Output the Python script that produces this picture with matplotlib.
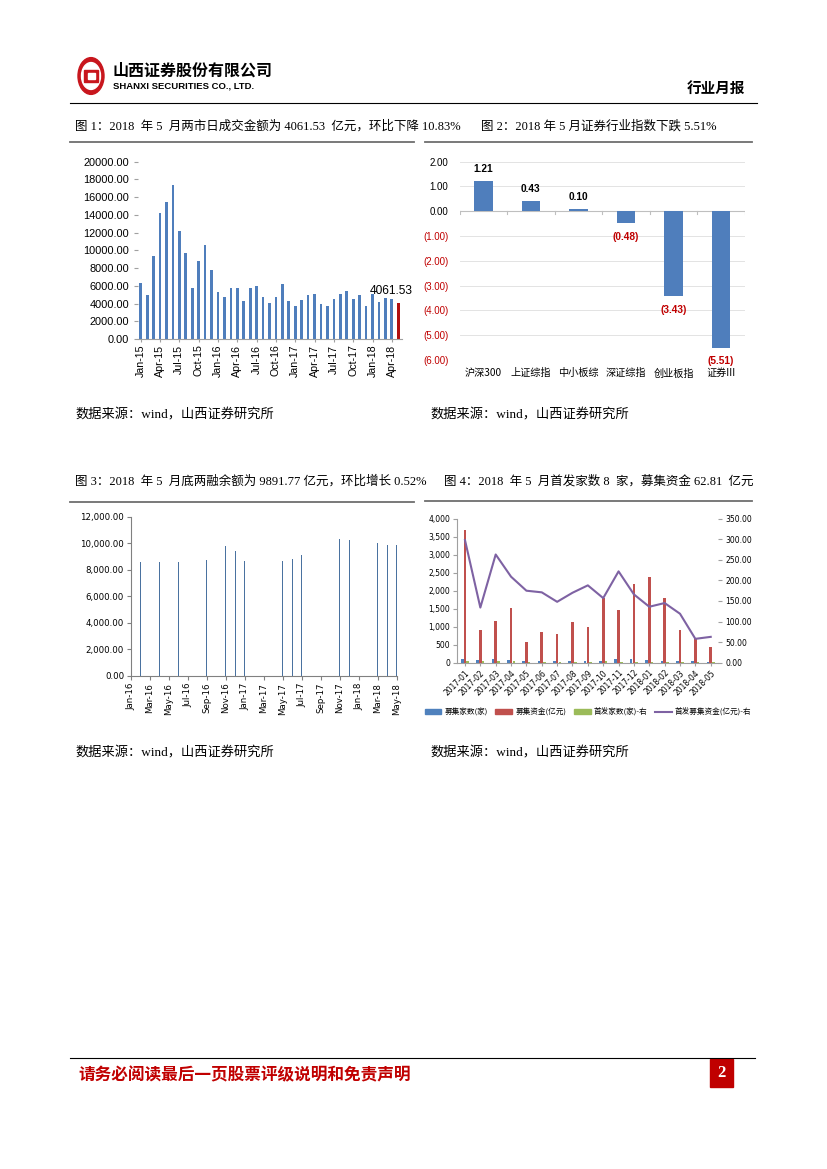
import matplotlib
matplotlib.use("Agg")
import matplotlib.pyplot as plt
from matplotlib.patches import Rectangle, Circle, Patch
from matplotlib.lines import Line2D
import numpy as np

W, H = 827, 1169
fig = plt.figure(figsize=(W / 100, H / 100), dpi=100)

SERIF = ['Liberation Serif', 'Noto Sans CJK SC']
SANS = ['Noto Sans CJK SC', 'DejaVu Sans']

# ---------------- data ----------------
# Chart 1: monthly turnover (亿元), Jan-15 .. May-18
turnover = [6350, 5000, 9400, 14200, 15500, 17370, 12200, 9700, 5800, 8800, 10600, 7800,
            5300, 4700, 5800, 5700, 4300, 5700, 6000, 4700, 4100, 4700, 6200, 4300,
            3760, 4400, 5000, 5100, 4000, 3760, 4550, 5100, 5400, 4550, 5000, 3760,
            5100, 4200, 4660, 4550, 4061.53]
turnover_ticklabels = ["Jan-15", "Apr-15", "Jul-15", "Oct-15", "Jan-16", "Apr-16", "Jul-16",
                       "Oct-16", "Jan-17", "Apr-17", "Jul-17", "Oct-17", "Jan-18", "Apr-18"]
turnover_yticks = [0, 2000, 4000, 6000, 8000, 10000, 12000, 14000, 16000, 18000, 20000]

# Chart 2: index changes (%)
idx_names = ["沪深300", "上证综指", "中小板综", "深证综指", "创业板指", "证券III"]
idx_change = [1.21, 0.43, 0.10, -0.48, -3.43, -5.51]
idx_yticks = [2, 1, 0, -1, -2, -3, -4, -5, -6]

# Chart 3: margin balance (亿元)
margin_months = ["2016-02", "2016-04", "2016-06", "2016-09", "2016-11", "2016-12", "2017-01",
                 "2017-05", "2017-06", "2017-07", "2017-11", "2017-12", "2018-03", "2018-04",
                 "2018-05"]
margin_balance = [8600, 8580, 8600, 8750, 9810, 9430, 8680, 8680, 8830, 9080, 10340, 10260,
                  10040, 9840, 9891.77]
margin_ticklabels = ["Jan-16", "Mar-16", "May-16", "Jul-16", "Sep-16", "Nov-16", "Jan-17",
                     "Mar-17", "May-17", "Jul-17", "Sep-17", "Nov-17", "Jan-18", "Mar-18",
                     "May-18"]
margin_yticks = [0, 2000, 4000, 6000, 8000, 10000, 12000]

# Chart 4: financing
ipo_months = ["2017-01", "2017-02", "2017-03", "2017-04", "2017-05", "2017-06", "2017-07",
              "2017-08", "2017-09", "2017-10", "2017-11", "2017-12", "2018-01", "2018-02",
              "2018-03", "2018-04", "2018-05"]
fund_count = [95, 80, 95, 70, 45, 60, 45, 60, 60, 55, 95, 95, 65, 35, 35, 40, 20]
fund_amount = [3700, 920, 1170, 1530, 580, 840, 810, 1120, 1000, 1800, 1470, 2190, 2380,
               1800, 920, 680, 430]
ipo_count = [45, 40, 48, 40, 30, 32, 28, 32, 30, 35, 30, 30, 20, 12, 15, 10, 8]
ipo_amount = [298, 134, 263, 209, 175, 171, 148, 170, 188, 157, 222, 166, 136, 145, 119, 58, 62.81]
left_yticks = [0, 500, 1000, 1500, 2000, 2500, 3000, 3500, 4000]
right_yticks = [0, 50, 100, 150, 200, 250, 300, 350]
legend_names = ["募集家数(家)", "募集资金(亿元)", "首发家数(家)-右", "首发募集资金(亿元)-右"]


# ---------------- helpers ----------------
def ax_px(left, top, right, bottom):
    return fig.add_axes([left / W, 1 - bottom / H, (right - left) / W, (bottom - top) / H])


def txt(x, y, s, **kw):
    fig.text(x / W, 1 - y / H, s, **kw)


def hline(x0, x1, y, color="black", lw=0.8):
    fig.add_artist(Line2D([x0 / W, x1 / W], [1 - y / H, 1 - y / H], color=color, lw=lw))


# ---------------- header ----------------
fig.add_artist(Circle((91 / W, 1 - 76 / H), 13 / W, transform=fig.transFigure,
                      color="#C8161D"))
fig.add_artist(Circle((91 / W, 1 - 76 / H), 9.5 / W, transform=fig.transFigure,
                      color="white"))
fig.add_artist(Rectangle((84 / W, 1 - 82 / H), 14 / W, 12 / H, transform=fig.transFigure,
                         color="#C8161D"))
fig.add_artist(Rectangle((87.5 / W, 1 - 79 / H), 7 / W, 6 / H, transform=fig.transFigure,
                         color="white"))
txt(113, 71, "山西证券股份有限公司", family=SANS, fontsize=11.5, fontweight="bold",
    va="center", ha="left")
txt(113, 86, "SHANXI SECURITIES CO., LTD.", family=['Liberation Sans'], fontsize=6.8,
    fontweight="bold", va="center", ha="left")
txt(745, 88, "行业月报", family=SANS, fontsize=10.5, fontweight="bold", va="center", ha="right")
hline(70, 757, 103, lw=0.8)

# ---------------- captions ----------------
CAP = 9.0
txt(75, 126, "图 1：2018  年 5  月两市日成交金额为 4061.53  亿元，环比下降 10.83%",
    family=SERIF, fontsize=CAP, va="center", ha="left")
txt(481, 126, "图 2：2018 年 5 月证券行业指数下跌 5.51%",
    family=SERIF, fontsize=CAP, va="center", ha="left")
txt(75, 481, "图 3：2018  年 5  月底两融余额为 9891.77 亿元，环比增长 0.52%",
    family=SERIF, fontsize=CAP, va="center", ha="left")
txt(444, 481, "图 4：2018  年 5  月首发家数 8  家，募集资金 62.81  亿元",
    family=SERIF, fontsize=CAP, va="center", ha="left")
for (a, b, y) in [(70, 414, 142), (425, 752, 142), (70, 414, 502), (425, 752, 501)]:
    hline(a, b, y, color="#6E6E6E", lw=1.3)

SRC = 9.5
for (sx, sy) in [(75, 415), (430, 415), (75, 753), (430, 753)]:
    txt(sx, sy, "数据来源：wind，山西证券研究所", family=SERIF, fontsize=SRC,
        va="center", ha="left")

# ---------------- chart 1 ----------------
ax1 = ax_px(137.5, 161.7, 401.5, 339)
x1 = np.arange(len(turnover))
colors1 = ["#4F7EBC"] * (len(turnover) - 1) + ["#B01010"]
ax1.bar(x1, turnover, width=0.42, color=colors1)
ax1.set_xlim(-0.5, len(turnover) - 0.5)
ax1.set_ylim(0, 20000)
ax1.set_yticks(turnover_yticks)
ax1.set_yticklabels([f"{v:.2f}" for v in turnover_yticks], family=['Liberation Sans'], fontsize=7.9)
ax1.set_xticks(x1[::3])
ax1.set_xticklabels(turnover_ticklabels, rotation=90, family=['Liberation Sans'], fontsize=7.7)
for s in ["top", "right", "left"]:
    ax1.spines[s].set_visible(False)
ax1.spines["bottom"].set_color("#A0A0A0")
ax1.tick_params(axis="y", length=3, color="#A0A0A0", pad=3)
ax1.tick_params(axis="x", length=2, color="#A0A0A0", pad=2)
ax1.annotate(f"{turnover[-1]:.2f}", xy=(x1[-1], turnover[-1]), xytext=(-5, 4),
             textcoords="offset points", ha="center", va="bottom",
             family=['Liberation Sans'], fontsize=8.6)

# ---------------- chart 2 ----------------
ax2 = ax_px(459.5, 161.7, 744.8, 360)
x2 = np.arange(len(idx_names))
ax2.bar(x2, idx_change, width=0.39, color="#4F7EBC", zorder=3)
ax2.set_xlim(-0.5, len(idx_names) - 0.5)
ax2.set_ylim(-6, 2)
ax2.set_yticks(idx_yticks)
ylabels2 = [f"{v:.2f}" if v >= 0 else f"({abs(v):.2f})" for v in idx_yticks]
ax2.set_yticklabels(ylabels2, family=['Liberation Sans'], fontsize=7)
for lab, v in zip(ax2.get_yticklabels(), idx_yticks):
    lab.set_color("black" if v >= 0 else "#C00000")
ax2.tick_params(axis="y", length=0, pad=8)
ax2.set_xticks(x2)
ax2.set_xticklabels(idx_names, family=SANS, fontsize=7.3)
ax2.tick_params(axis="x", length=0, pad=6)
ax2.grid(axis="y", color="#E3E3E3", lw=0.7, zorder=0)
for s in ax2.spines.values():
    s.set_visible(False)
ax2.axhline(0, color="#BFBFBF", lw=0.8, zorder=2)
for b in np.arange(-0.5, len(idx_names), 1.0):
    ax2.plot([b, b], [0, -0.1], color="#BFBFBF", lw=0.8, zorder=2)
for xi, v in zip(x2, idx_change):
    if v >= 0:
        ax2.annotate(f"{v:.2f}", xy=(xi, v), xytext=(0, 5), textcoords="offset points",
                     ha="center", va="bottom", fontsize=7.3, fontweight="bold",
                     family=['Liberation Sans'])
    else:
        ax2.annotate(f"({abs(v):.2f})", xy=(xi, v), xytext=(0, -6), textcoords="offset points",
                     ha="center", va="top", fontsize=7.3, fontweight="bold", color="#C00000",
                     family=['Liberation Sans'])

# ---------------- chart 3 ----------------
ax3 = ax_px(131, 516.7, 396.7, 675.7)


def month_index(s, base=(2016, 1)):
    y, m = s.split("-")
    return (int(y) - base[0]) * 12 + int(m) - base[1]


x3 = [month_index(m) for m in margin_months]
ax3.bar(x3, margin_balance, width=0.1, color="#4A72A0")
ax3.set_xlim(0, 28)
ax3.set_ylim(0, 12000)
ax3.set_yticks(margin_yticks)
ax3.set_yticklabels([f"{v:,.2f}" for v in margin_yticks], family=['DejaVu Sans'], fontsize=6.2)
ax3.set_xticks(np.arange(0, 29, 2))
ax3.set_xticklabels(margin_ticklabels, rotation=90, family=['DejaVu Sans'], fontsize=6.2)
for s in ["top", "right"]:
    ax3.spines[s].set_visible(False)
ax3.spines["left"].set_color("#808080")
ax3.spines["bottom"].set_color("#808080")
ax3.tick_params(axis="both", length=3, color="#808080", pad=2)

# ---------------- chart 4 ----------------
ax4 = ax_px(457.3, 518.7, 718.4, 662.7)
x4 = np.arange(len(ipo_months))
bw = 0.17
ax4.bar(x4 - 0.18, fund_count, width=bw, color="#4F81BD", zorder=3)
ax4.bar(x4, fund_amount, width=bw, color="#C0504D", zorder=3)
ax4.bar(x4 + 0.18, ipo_count, width=bw, color="#9BBB59", zorder=3)
ax4.set_xlim(-0.5, len(ipo_months) - 0.5)
ax4.set_ylim(0, 4000)
ax4.set_yticks(left_yticks)
ax4.set_yticklabels([f"{v:,}" for v in left_yticks], family=['DejaVu Sans'], fontsize=5.5)
ax4.set_xticks(x4)
ax4.set_xticklabels(ipo_months, rotation=45, ha="right", rotation_mode="anchor",
                    family=['DejaVu Sans'], fontsize=5.5)
for s in ["top", "right"]:
    ax4.spines[s].set_visible(False)
ax4.spines["left"].set_color("#A0A0A0")
ax4.spines["bottom"].set_color("#A0A0A0")
ax4.tick_params(axis="y", length=3, color="#A0A0A0", pad=2)
ax4.tick_params(axis="x", length=2, color="#A0A0A0", pad=2)
ax4r = ax4.twinx()
ax4r.plot(x4, ipo_amount, color="#7E62A3", lw=1.5, zorder=4)
ax4r.set_ylim(0, 350)
ax4r.set_yticks(right_yticks)
ax4r.set_yticklabels([f"{v:.2f}" for v in right_yticks], family=['DejaVu Sans'], fontsize=5.5)
for s in ax4r.spines.values():
    s.set_visible(False)
ax4r.tick_params(axis="y", length=3, color="#A0A0A0", pad=2)

handles = [Patch(color="#4F81BD"), Patch(color="#C0504D"), Patch(color="#9BBB59"),
           Line2D([], [], color="#7E62A3", lw=1.5)]
fig.legend(handles, legend_names, loc="center", bbox_to_anchor=(588 / W, 1 - 712 / H),
           ncol=4, frameon=False, prop={'family': SANS, 'size': 5.5},
           handlelength=2.2, handleheight=0.6, columnspacing=1.0, handletextpad=0.4)

# ---------------- footer ----------------
hline(70, 755, 1058, lw=0.8)
txt(78, 1075, "请务必阅读最后一页股票评级说明和免责声明", family=SANS, fontsize=12,
    fontweight="bold", color="#C00000", va="center", ha="left")
fig.add_artist(Rectangle((710 / W, 1 - 1087 / H), 23 / W, 28 / H, transform=fig.transFigure,
                         color="#C00000"))
txt(721.5, 1073, "2", family=['Liberation Serif'], fontsize=12, fontweight="bold",
    color="white", va="center", ha="center")

fig.savefig("out.png", dpi=100)
